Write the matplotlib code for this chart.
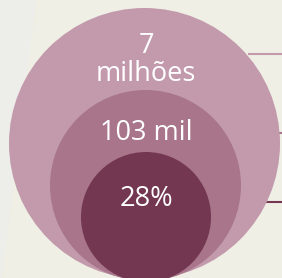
import matplotlib.pyplot as plt
from matplotlib.patches import Circle, Polygon

# circle labels (outer -> inner), one entry per text line
labels = ['7', 'milhões', '103 mil', '28%']
label_x = [146, 146, 146, 146]
label_y = [46, 74, 133, 199]
colors = ['#c39aac', '#a8758a', '#733751']
# geometry in pixels: centre x, centre y, radius
centers_x = [144.5, 145.5, 146]
centers_y = [143.5, 185.5, 217]
radii = [135.5, 95.5, 65]
# leader lines: y and start x
line_y = [54, 133, 202]
line_x0 = [248, 227, 208]
line_colors = ['#c39aac', '#a8758a', '#733751']

W, H = 282, 278
fig = plt.figure(figsize=(W / 100, H / 100), dpi=100)
fig.patch.set_facecolor('#efefe5')
ax = fig.add_axes([0, 0, 1, 1])
ax.set_xlim(0, W)
ax.set_ylim(H, 0)
ax.set_aspect('auto')
ax.axis('off')

# lighter slanted strip on the left
ax.add_patch(Polygon([(0, 0), (36, 0), (2, H), (0, H)], closed=True,
                     facecolor='#ededea', edgecolor='none', zorder=0))

for cx, cy, r, c in zip(centers_x, centers_y, radii, colors):
    ax.add_patch(Circle((cx, cy), r, facecolor=c, edgecolor='none', zorder=1))

for y, x0, c in zip(line_y, line_x0, line_colors):
    ax.plot([x0, W], [y, y], color=c, lw=1.5, solid_capstyle='butt', zorder=0.5)

for lab, x, y in zip(labels, label_x, label_y):
    ax.text(x, y, lab, color='white', fontsize=19.5, family='Open Sans',
            ha='center', va='center', zorder=3)

fig.savefig('out.png', dpi=100, facecolor=fig.get_facecolor())
